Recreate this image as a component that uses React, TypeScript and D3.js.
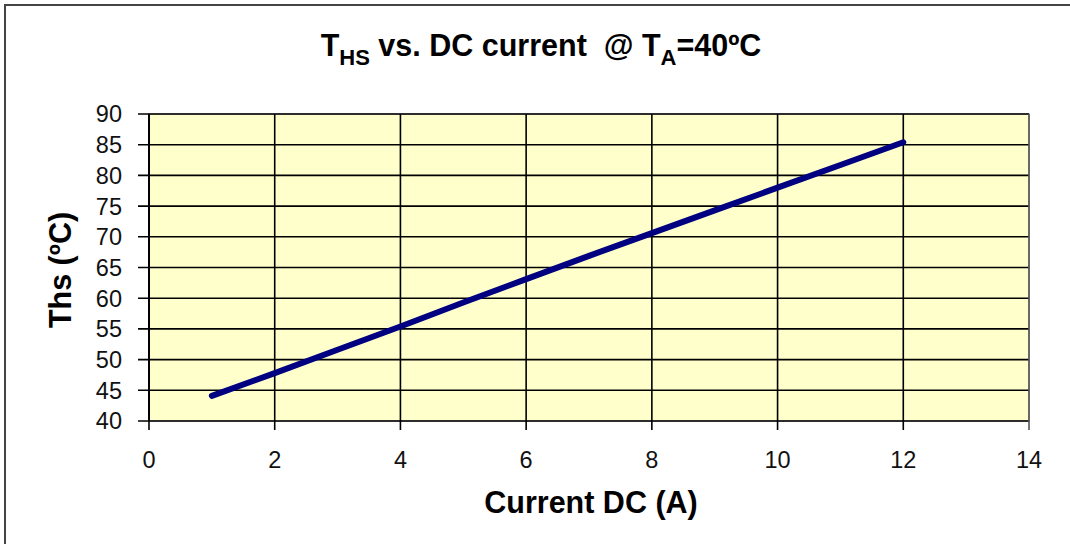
import React from 'react';
import * as d3 from 'd3';

// current (A) vs heat-sink temperature (ºC)
const currentA = [1, 2, 3, 4, 5, 6, 7, 8, 9, 10, 11, 12];
const thsC = [44.1, 47.8, 51.6, 55.4, 59.3, 63.1, 66.9, 70.6, 74.3, 78.0, 81.7, 85.4];

const xTicks = [0, 2, 4, 6, 8, 10, 12, 14];
const yTicks = [40, 45, 50, 55, 60, 65, 70, 75, 80, 85, 90];

const W = 1070, H = 544;
const margin = { top: 114, right: 41, bottom: 123, left: 149 };
const font = 'Arial, "Liberation Sans", sans-serif';

export default function App() {
  const innerW = W - margin.left - margin.right;
  const innerH = H - margin.top - margin.bottom;

  const x = d3.scaleLinear().domain([0, 14]).range([0, innerW]);
  const y = d3.scaleLinear().domain([40, 90]).range([innerH, 0]);

  const pts = currentA.map((c, i) => [c, thsC[i]] as [number, number]);
  const line = d3.line<[number, number]>()
    .x(d => x(d[0]))
    .y(d => y(d[1]));

  return (
    <svg width={W} height={H} style={{ display: 'block', position: 'absolute', left: 0, top: 0 }} fontFamily={font}>
      <style>{'body{margin:0}'}</style>
      <rect x={0} y={0} width={W} height={H} fill="white" />
      {/* outer chart frame, runs past the right and bottom edges */}
      <rect x={5} y={5} width={W + 20} height={H + 20} fill="none" stroke="#444" strokeWidth={2} />

      <text x={541} y={56} textAnchor="middle" fontWeight="bold" fontSize={30.5} style={{ whiteSpace: 'pre' }}>
        T<tspan fontSize={22} dy={9}>HS</tspan>
        <tspan dy={-9}>{' vs. DC current  @ T'}</tspan>
        <tspan fontSize={22} dy={9}>A</tspan>
        <tspan dy={-9}>=40ºC</tspan>
      </text>

      <g transform={`translate(${margin.left},${margin.top})`}>
        <rect x={0} y={0} width={innerW} height={innerH} fill="#FFFFCC" stroke="#999" strokeWidth={1.5} />
        {yTicks.map(t => (
          <g key={'y' + t}>
            <line x1={-11} x2={innerW} y1={y(t)} y2={y(t)} stroke="#000" strokeWidth={1.6} />
            <text x={-27} y={y(t)} dy="0.36em" textAnchor="end" fontSize={23.5} fill="#111">{t}</text>
          </g>
        ))}
        {xTicks.map(t => (
          <g key={'x' + t}>
            <line x1={x(t)} x2={x(t)} y1={0} y2={innerH + 9} stroke={t === 14 ? '#555' : '#000'} strokeWidth={1.6} />
            <text x={x(t)} y={innerH + 39} dy="0.36em" textAnchor="middle" fontSize={23.5} fill="#111">{t}</text>
          </g>
        ))}
        <line x1={0} x2={0} y1={0} y2={innerH} stroke="#000" strokeWidth={2} />
        <path d={line(pts) ?? ''} fill="none" stroke="#000080" strokeWidth={6} strokeLinecap="round" />
      </g>

      <text x={591} y={513} textAnchor="middle" fontWeight="bold" fontSize={30.5}>Current DC (A)</text>
      <text transform="translate(71,270) rotate(-90)" textAnchor="middle" fontWeight="bold" fontSize={30.5}>Ths (ºC)</text>
    </svg>
  );
}
